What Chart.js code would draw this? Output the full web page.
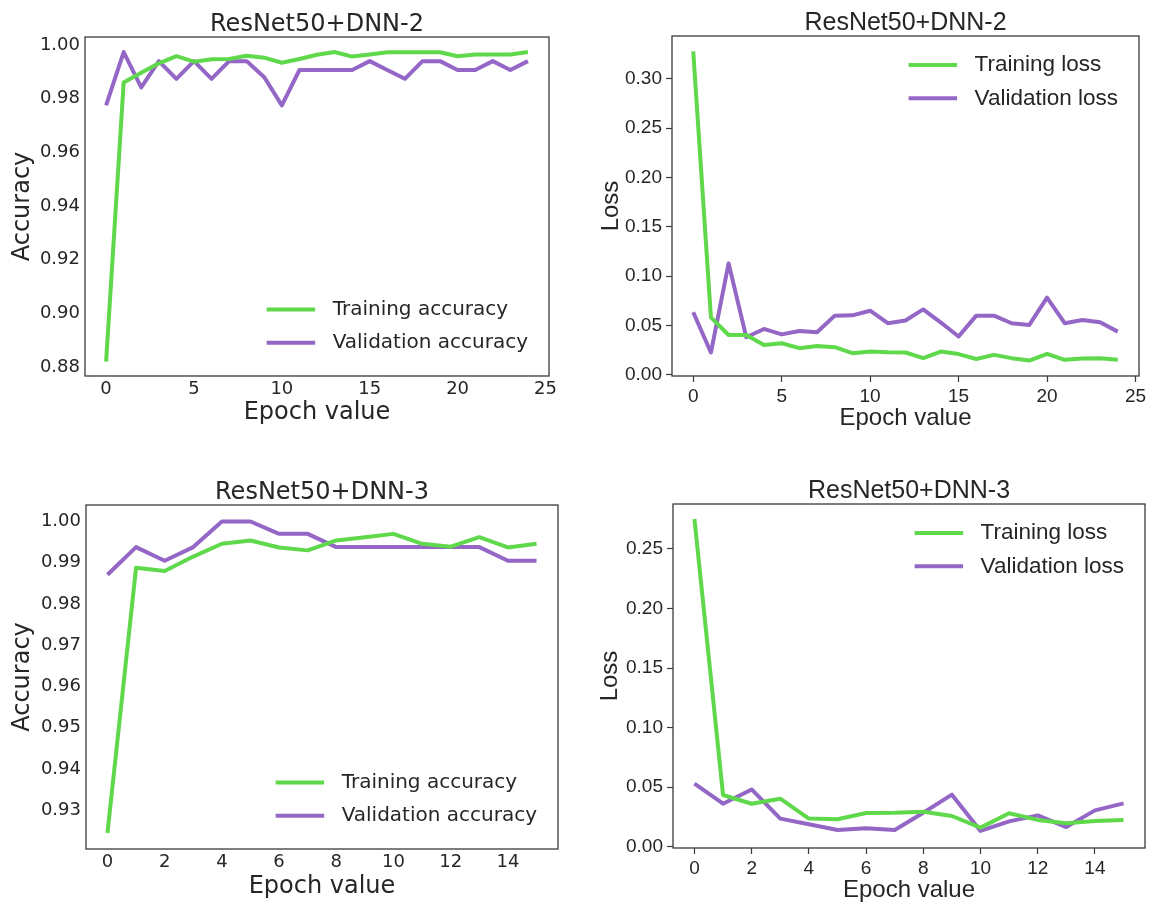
<!DOCTYPE html>
<html>
<head>
<meta charset="utf-8">
<script src="https://cdn.jsdelivr.net/npm/chart.js@4.4.0/dist/chart.umd.min.js"></script>
<style>
  body { margin: 0; background: #fff; }
  #wrap { position: relative; width: 1151px; height: 908px; }
  #wrap canvas { position: absolute; }
</style>
</head>
<body>
<div id="wrap">
  <canvas id="acc2" width="575" height="440" style="left:0;top:0"></canvas>
  <canvas id="loss2" width="576" height="440" style="left:575px;top:0"></canvas>
  <canvas id="acc3" width="575" height="468" style="left:0;top:440px"></canvas>
  <canvas id="loss3" width="576" height="468" style="left:575px;top:440px"></canvas>
</div>
<script>
// epochs
const epochs2 = [0, 1, 2, 3, 4, 5, 6, 7, 8, 9, 10, 11, 12, 13, 14, 15, 16, 17, 18, 19, 20, 21, 22, 23, 24];
const epochs3 = [0, 1, 2, 3, 4, 5, 6, 7, 8, 9, 10, 11, 12, 13, 14, 15];

// ResNet50+DNN-2
const trainAcc2 = [0.882, 0.986, 0.9897, 0.9932, 0.9959, 0.9938, 0.9947, 0.9948, 0.996, 0.9953, 0.9934, 0.9948, 0.9964,
  0.9974, 0.9957, 0.9965, 0.9973, 0.9973, 0.9973, 0.9973, 0.9958, 0.9965, 0.9965, 0.9965, 0.9974];
const valAcc2 = [0.9775, 0.9974, 0.9842, 0.994, 0.9874, 0.994, 0.9874, 0.994, 0.994, 0.988, 0.9775, 0.9907, 0.9907,
  0.9907, 0.9907, 0.994, 0.9907, 0.9874, 0.994, 0.994, 0.9907, 0.9907, 0.994, 0.9907, 0.994];
const trainLoss2 = [0.328, 0.0583, 0.0404, 0.0404, 0.0303, 0.032, 0.027, 0.0293, 0.028, 0.0219, 0.0236, 0.0229, 0.0226,
  0.0169, 0.0236, 0.021, 0.016, 0.0202, 0.0169, 0.0145, 0.0213, 0.0152, 0.0165, 0.0169, 0.0152];
const valLoss2 = [0.0634, 0.0226, 0.113, 0.0381, 0.0465, 0.041, 0.0445, 0.0432, 0.06, 0.0603, 0.065, 0.0523, 0.055,
  0.0663, 0.053, 0.0388, 0.06, 0.06, 0.0523, 0.0506, 0.0782, 0.0523, 0.0556, 0.0533, 0.0438];

// ResNet50+DNN-3
const trainAcc3 = [0.9245, 0.9888, 0.988, 0.9915, 0.9946, 0.9954, 0.9937, 0.993, 0.9954, 0.9962, 0.997, 0.9946, 0.9939, 0.9962, 0.9937, 0.9946];
const valAcc3 = [0.9871, 0.9938, 0.9905, 0.9938, 1.0, 1.0, 0.997, 0.997, 0.9938, 0.9938, 0.9938, 0.9938, 0.9938, 0.9938, 0.9905, 0.9905];
const trainLoss3 = [0.2752, 0.0433, 0.036, 0.0402, 0.0235, 0.023, 0.0282, 0.0284, 0.0293, 0.0257, 0.0159, 0.028, 0.0224, 0.0195, 0.0215, 0.0224];
const valLoss3 = [0.0528, 0.036, 0.048, 0.0235, 0.0187, 0.0139, 0.0153, 0.0139, 0.0284, 0.0436, 0.0131, 0.0212, 0.0262, 0.0164, 0.0304, 0.0363];

// tick labels
const xTicks2 = [0, 5, 10, 15, 20, 25];
const xTicks3 = [0, 2, 4, 6, 8, 10, 12, 14];
const accTicks2 = [0.88, 0.90, 0.92, 0.94, 0.96, 0.98, 1.00];
const lossTicks2 = [0.00, 0.05, 0.10, 0.15, 0.20, 0.25, 0.30];
const accTicks3 = [0.93, 0.94, 0.95, 0.96, 0.97, 0.98, 0.99, 1.00];
const lossTicks3 = [0.00, 0.05, 0.10, 0.15, 0.20, 0.25];

const accNames = ["Training accuracy", "Validation accuracy"];
const lossNames = ["Training loss", "Validation loss"];

const GREEN = "#5fd94b";
const PURPLE = "#9466c6";
const INK = "#262626";
const FRAME = "#3a3a3a";
const DEJAVU = "'DejaVu Sans', sans-serif";
const ARIAL = "'Liberation Sans', Arial, sans-serif";

// frame, title and legend drawn on top of the plot
const panelPlugin = {
  id: "panel",
  afterDraw(chart, args, opts) {
    const { ctx, chartArea: ca } = chart;
    ctx.save();
    ctx.strokeStyle = FRAME;
    ctx.lineWidth = 1.3;
    ctx.strokeRect(ca.left, ca.top, ca.right - ca.left, ca.bottom - ca.top);

    ctx.fillStyle = INK;
    ctx.font = opts.titleFont;
    ctx.textAlign = "center";
    ctx.textBaseline = "alphabetic";
    ctx.fillText(opts.title, (ca.left + ca.right) / 2, ca.top - 6);

    const ds = chart.data.datasets;
    ctx.font = opts.legendFont;
    ctx.textAlign = "left";
    ctx.textBaseline = "middle";
    const maxW = Math.max(...ds.map((d) => ctx.measureText(d.label).width));
    const textX = ca.right - 21 - maxW;
    const x1 = textX - 17.5;
    const x0 = x1 - 48.5;
    ds.forEach((d, i) => {
      const y = opts.corner === "br" ? ca.bottom - 33.3 * (ds.length - i) : ca.top + 29 + 33.3 * i;
      ctx.strokeStyle = d.borderColor;
      ctx.lineWidth = 4;
      ctx.lineCap = "butt";
      ctx.beginPath();
      ctx.moveTo(x0, y);
      ctx.lineTo(x1, y);
      ctx.stroke();
      ctx.fillStyle = INK;
      ctx.fillText(d.label, textX, y);
    });
    ctx.restore();
  },
};

function makePanel(id, o) {
  const tickGrid = o.marks
    ? { display: true, drawOnChartArea: false, drawTicks: true, tickLength: 6, tickColor: FRAME, tickWidth: 1.2 }
    : { display: false, drawTicks: false, tickLength: 0 };
  return new Chart(document.getElementById(id), {
    type: "line",
    data: {
      datasets: [
        { label: o.names[0], data: o.x.map((e, i) => ({ x: e, y: o.train[i] })), borderColor: GREEN },
        { label: o.names[1], data: o.x.map((e, i) => ({ x: e, y: o.val[i] })), borderColor: PURPLE },
      ],
    },
    options: {
      responsive: false,
      animation: false,
      layout: { padding: { left: 0, top: o.top, right: o.right, bottom: 0 } },
      elements: {
        point: { radius: 0 },
        line: { borderWidth: 4, tension: 0, borderJoinStyle: "round", fill: false },
      },
      plugins: {
        legend: { display: false },
        tooltip: { enabled: false },
        panel: { title: o.title, titleFont: o.titleFont, legendFont: o.legendFont, corner: o.corner },
      },
      scales: {
        x: {
          type: "linear",
          min: o.xMin,
          max: o.xMax,
          afterBuildTicks: (s) => { s.ticks = o.xTicks.map((v) => ({ value: v })); },
          afterFit: (s) => { s.height = o.xh; },
          grid: tickGrid,
          border: { display: false },
          ticks: { font: { family: o.font, size: o.tickSize }, color: INK, padding: o.xPad, maxRotation: 0, autoSkip: false,
            callback: (v) => String(v) },
          title: { display: true, text: "Epoch value", color: INK, font: { family: o.font, size: 24 },
            padding: { top: 0, bottom: o.xTitlePad } },
        },
        y: {
          min: o.yMin,
          max: o.yMax,
          afterBuildTicks: (s) => { s.ticks = o.yTicks.map((v) => ({ value: v })); },
          afterFit: (s) => { s.width = o.yw; },
          grid: tickGrid,
          border: { display: false },
          ticks: { font: { family: o.font, size: o.tickSize }, color: INK, padding: o.yPad, autoSkip: false,
            callback: (v) => v.toFixed(2) },
          title: { display: true, text: o.yTitle, color: INK, font: { family: o.font, size: 24 },
            padding: { top: o.yTitlePad, bottom: 0 } },
        },
      },
    },
    plugins: [panelPlugin],
  });
}

makePanel("acc2", {
  title: "ResNet50+DNN-2", titleFont: `24px ${DEJAVU}`, names: accNames, x: epochs2, train: trainAcc2, val: valAcc2,
  xTicks: xTicks2, yTicks: accTicks2, xMin: -1.2, xMax: 25.2, yMin: 0.8766, yMax: 1.003,
  yTitle: "Accuracy", font: DEJAVU, tickSize: 18, legendFont: `20px ${DEJAVU}`, corner: "br", marks: false,
  top: 37, right: 26, yw: 85, xh: 64, xPad: 3, yPad: 5, xTitlePad: 12.6, yTitlePad: 8,
});

makePanel("loss2", {
  title: "ResNet50+DNN-2", titleFont: `25px ${ARIAL}`, names: lossNames, x: epochs2, train: trainLoss2, val: valLoss2,
  xTicks: xTicks2, yTicks: lossTicks2, xMin: -1.2, xMax: 25.2, yMin: -0.0012, yMax: 0.3435,
  yTitle: "Loss", font: ARIAL, tickSize: 19, legendFont: `22.5px ${ARIAL}`, corner: "tr", marks: true,
  top: 36, right: 12, yw: 97, xh: 64, xPad: 3, yPad: 4, xTitlePad: 7.6, yTitlePad: 21.6,
});

makePanel("acc3", {
  title: "ResNet50+DNN-3", titleFont: `24px ${DEJAVU}`, names: accNames, x: epochs3, train: trainAcc3, val: valAcc3,
  xTicks: xTicks3, yTicks: accTicks3, xMin: -0.75, xMax: 15.75, yMin: 0.9206, yMax: 1.004,
  yTitle: "Accuracy", font: DEJAVU, tickSize: 18, legendFont: `20px ${DEJAVU}`, corner: "br", marks: false,
  top: 65, right: 17, yw: 86, xh: 59, xPad: 3, yPad: 5, xTitlePad: 6.6, yTitlePad: 8.6,
});

makePanel("loss3", {
  title: "ResNet50+DNN-3", titleFont: `25px ${ARIAL}`, names: lossNames, x: epochs3, train: trainLoss3, val: valLoss3,
  xTicks: xTicks3, yTicks: lossTicks3, xMin: -0.75, xMax: 15.75, yMin: -0.0012, yMax: 0.2878,
  yTitle: "Loss", font: ARIAL, tickSize: 19, legendFont: `22.5px ${ARIAL}`, corner: "tr", marks: true,
  top: 64, right: 6, yw: 98, xh: 60, xPad: 3, yPad: 4, xTitlePad: 3.6, yTitlePad: 21,
});
</script>
</body>
</html>
